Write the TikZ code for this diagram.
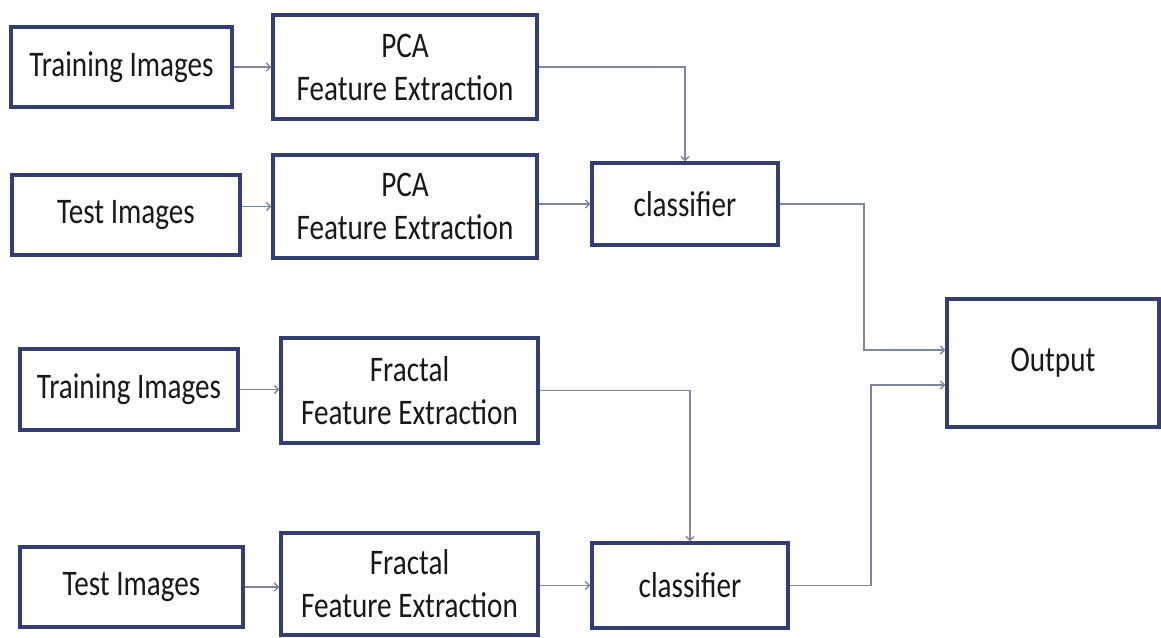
\documentclass[tikz,border=0pt]{standalone}
\usepackage{fontspec}
\setmainfont[FakeStretch=0.81]{Carlito}
\usetikzlibrary{arrows.meta,calc}
\definecolor{boxline}{RGB}{52,62,118}
\definecolor{conn}{RGB}{125,135,160}
\definecolor{txt}{RGB}{25,25,25}
\begin{document}
\begin{tikzpicture}[x=1pt,y=-1pt,
  blk/.style={draw=boxline,line width=3.2pt,fill=white,inner sep=0pt,align=center,
    text=txt,font=\fontsize{36}{43}\selectfont},
  conline/.style={draw=conn,line width=1.5pt},
  arr/.style={conline,-{Straight Barb[length=4pt,width=8pt]}}]
\useasboundingbox (0,0) rectangle (1161,637);
\fill[white] (0,0) rectangle (1161,637);
% boxes
\node[blk,minimum width=221,minimum height=80] (tr1) at (121.5,67) {Training Images};
\node[blk,minimum width=264,minimum height=104] (pca1) at (405,67) {PCA\\Feature Extraction};
\node[blk,minimum width=228,minimum height=80] (te1) at (126,215) {Test Images};
\node[blk,minimum width=264,minimum height=103] (pca2) at (405,206.5) {PCA\\Feature Extraction};
\node[blk,minimum width=186,minimum height=82] (cl1) at (685,204) {classifier};
\node[blk,minimum width=212,minimum height=128] (out) at (1053,363) {Output};
\node[blk,minimum width=218,minimum height=81] (tr2) at (129,389.5) {Training Images};
\node[blk,minimum width=257,minimum height=105] (fr1) at (409.5,390.5) {Fractal\\Feature Extraction};
\node[blk,minimum width=223,minimum height=80] (te2) at (131.5,587) {Test Images};
\node[blk,minimum width=257,minimum height=102] (fr2) at (409.5,584) {Fractal\\Feature Extraction};
\node[blk,minimum width=196,minimum height=85] (cl2) at (690,585.5) {classifier};
% junction coordinates
\coordinate (j1) at (864,204);
\coordinate (j2) at (871,585.5);
% connectors
\draw[arr] (tr1.east) -- (tr1.east -| pca1.west);
\draw[arr] (te1.east |- pca2.west) -- (pca2.west);
\draw[arr] (pca1.east) -| (cl1.north);
\draw[arr] (pca2.east |- cl1.west) -- (cl1.west);
\draw[arr] (cl1.east) -- (j1) |- ([yshift=13pt]out.west);
\draw[arr] (tr2.east) -- (tr2.east -| fr1.west);
\draw[arr] (fr1.east) -| (cl2.north);
\draw[arr] (te2.east) -- (te2.east -| fr2.west);
\draw[arr] (fr2.east |- cl2.west) -- (cl2.west);
\draw[arr] (cl2.east) -- (j2) |- ([yshift=-22pt]out.west);
\end{tikzpicture}
\end{document}
